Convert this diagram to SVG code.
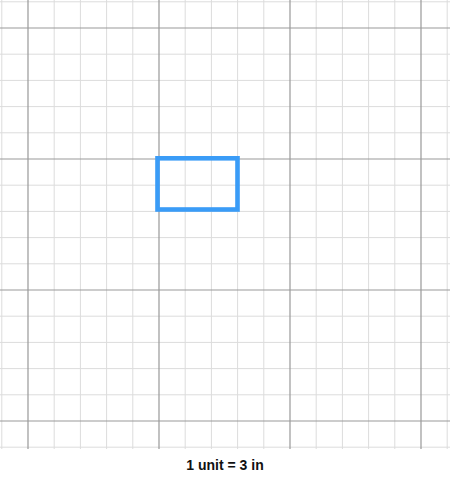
<svg xmlns="http://www.w3.org/2000/svg" width="450" height="478" viewBox="0 0 450 478">
<style>
.minor{stroke:#dcdcdc;stroke-width:1;fill:none}
.major{stroke:#999;stroke-width:1.2;fill:none}
.lbl{font-family:"Liberation Sans",Arial,sans-serif;font-size:14px;font-weight:bold;fill:#111}
</style>
<rect width="450" height="478" fill="#fff"/>
<g id="grid-minor" class="minor">
<path d="M1.8 0V449M54.2 0V449M80.4 0V449M106.6 0V449M132.8 0V449M185.2 0V449M211.4 0V449M237.6 0V449M263.8 0V449M316.2 0V449M342.4 0V449M368.6 0V449M394.8 0V449M447.2 0V449"/>
<path d="M0 1.8H450M0 54.2H450M0 80.4H450M0 106.6H450M0 132.8H450M0 185.2H450M0 211.4H450M0 237.6H450M0 263.8H450M0 316.2H450M0 342.4H450M0 368.6H450M0 394.8H450M0 447.2H450"/>
</g>
<g id="grid-major" class="major">
<path d="M28 0V449M159 0V449M290 0V449M421 0V449"/>
<path d="M0 28H450M0 159H450M0 290H450M0 421H450"/>
</g>
<g id="shape">
<rect x="157.5" y="158.3" width="80" height="51.2" fill="none" stroke="#3a9cf7" stroke-width="4.6"/>
</g>
<g id="caption">
<text class="lbl" x="225" y="470" text-anchor="middle">1 unit = 3 in</text>
</g>
</svg>
